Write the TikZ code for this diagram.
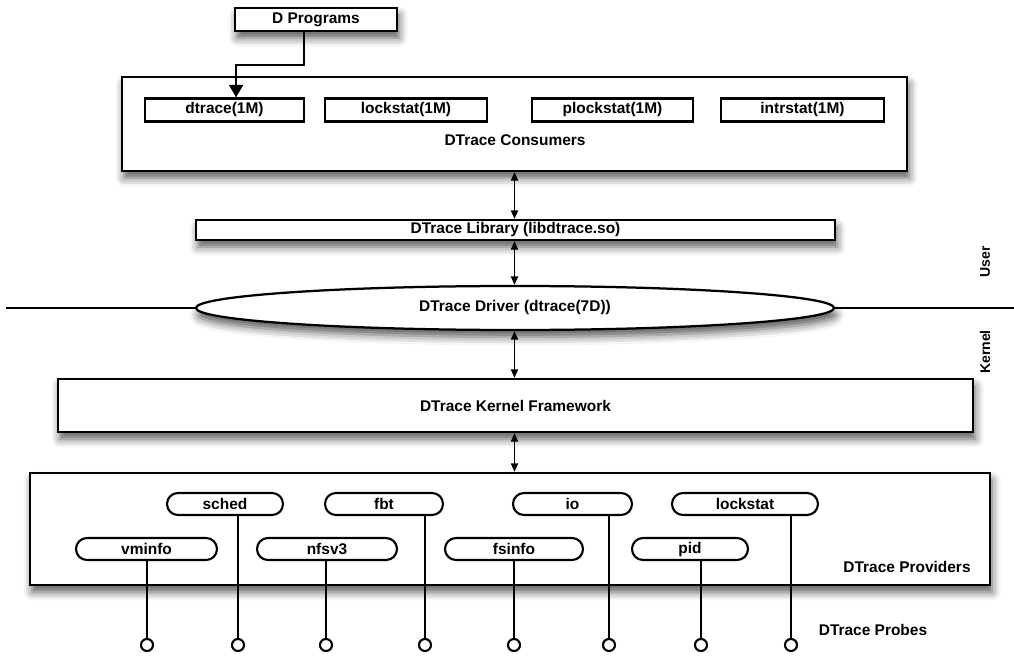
\documentclass[tikz,border=0pt]{standalone}
\usepackage{fontspec}
\setmainfont{Liberation Sans}
\usepackage{tikz}
\usetikzlibrary{positioning,shapes.geometric,shapes.misc,arrows.meta,shadows.blur}

\tikzset{
  layer/.style={draw, line width=1.6pt, fill=white, inner sep=0pt,
    blur shadow={shadow xshift=1.5pt, shadow yshift=-5pt, shadow blur radius=6pt, shadow opacity=65}},
  tool/.style={draw, line width=1.5pt, fill=white, inner sep=0pt, minimum height=0.575cm},
  prov/.style={draw, rounded rectangle, line width=1.5pt, fill=white, inner sep=0pt, minimum height=0.55cm},
  probe/.style={draw, circle, line width=1.5pt, fill=white, inner sep=0pt, minimum size=0.3cm},
  link/.style={line width=1.2pt, {Triangle[length=6pt,width=5pt]}-{Triangle[length=6pt,width=5pt]}}
}

\begin{document}
\begin{tikzpicture}[x=0.025cm, y=-0.025cm, font=\fontsize{11}{13}\selectfont\bfseries]
\useasboundingbox (0,0) rectangle (1014,656);

\node[layer, minimum width=4.05cm, minimum height=0.575cm] (dprog) at (316,19.5) {D Programs};
\node[layer, minimum width=19.625cm, minimum height=2.35cm] (cons) at (514.5,124) {};
\node (consLbl) at (515,140) {DTrace Consumers};
\node[tool, minimum width=3.975cm] (dtrace) at (224.5,110) {dtrace(1M)}; \node[tool, minimum width=4.05cm] (c-lockstat) at (406,110) {lockstat(1M)};
\node[tool, minimum width=4.025cm] (plockstat) at (612.5,110) {plockstat(1M)}; \node[tool, minimum width=4.075cm] (intrstat) at (802.5,110) {intrstat(1M)};

\draw[line width=1.5pt, -{Triangle[length=9pt,width=10pt]}] ([xshift=-0.3cm]dprog.south) -- ++(0,33) -| ([xshift=0.29cm]dtrace.north);

\node[layer, minimum width=15.975cm, minimum height=0.5cm] (lib) at (515.5,230) {DTrace Library (libdtrace.so)};

\coordinate (lnL) at (6,308); \coordinate (lnR) at (1014,308);
\draw[line width=1.5pt] (lnL) -- (lnR);
\node[layer, ellipse, minimum width=15.95cm, minimum height=1.1cm] (driver) at (515,308) {DTrace Driver (dtrace(7D))};

\node[rotate=90, font=\fontsize{10}{12}\selectfont\bfseries] (user) at (985,262) {User};
\node[rotate=90, font=\fontsize{10}{12}\selectfont\bfseries] (kernel) at (985,352) {Kernel};

\node[layer, minimum width=22.875cm, minimum height=1.325cm] (frame) at (515.5,405.5) {DTrace Kernel Framework};
\node[layer, minimum width=24cm, minimum height=2.8cm] (provs) at (510,529) {};
\node (provLbl) at (907,567) {DTrace Providers};
\node (probeLbl) at (873,630) {DTrace Probes};

\draw[link] (cons.south) -- (cons.south |- lib.north);
\draw[link] (cons.south |- lib.south) -- (cons.south |- driver.north);
\draw[link] (cons.south |- driver.south) -- (cons.south |- frame.north);
\draw[link] (cons.south |- frame.south) -- (cons.south |- provs.north);

\node[prov, minimum width=2.9cm] (p-sched) at (225,504) {sched}; \node[prov, minimum width=2.95cm] (p-fbt) at (384,504) {fbt};
\node[prov, minimum width=2.975cm] (p-io) at (572.5,504) {io}; \node[prov, minimum width=3.65cm] (p-lockstat) at (745,504) {lockstat};
\node[prov, minimum width=3.525cm] (p-vminfo) at (146.5,549) {vminfo}; \node[prov, minimum width=3.5cm] (p-nfsv3) at (327,549) {nfsv3};
\node[prov, minimum width=3.45cm] (p-fsinfo) at (514,549) {fsinfo}; \node[prov, minimum width=2.9cm] (p-pid) at (690,549) {pid};

\foreach \p/\x in {vminfo/147, sched/238, nfsv3/326, fbt/425, fsinfo/514, io/609, pid/701, lockstat/791} {
  \node[probe] (pr-\p) at (\x,645) {};
  \draw[line width=1.5pt] (pr-\p) -- (pr-\p |- p-\p.south);
}
\end{tikzpicture}
\end{document}
